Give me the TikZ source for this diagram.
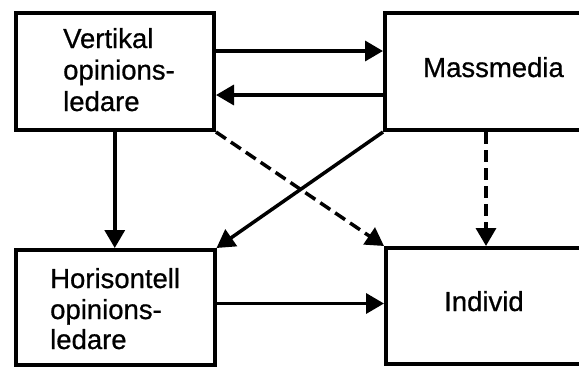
\documentclass[tikz,border=0pt]{standalone}
\usepackage{fontspec}
\setmainfont{Liberation Sans}
\newfontfamily\lblfont{Liberation Sans}[FakeBold=0.7]
\usetikzlibrary{arrows.meta,calc}
\begin{document}
\begin{tikzpicture}[x=1pt,y=-1pt,
  box/.style={draw,rectangle,line width=4pt,inner sep=0pt},
  lbl/.style={anchor=base west,inner sep=0pt,font=\lblfont\fontsize{27.5}{31}\selectfont},
  link/.style={line width=3.5pt,-{Triangle[length=18pt,width=20pt]}},
  linkd/.style={link,dash pattern=on 12pt off 6pt}]
\clip (0,0) rectangle (579,367);
\fill[white] (0,0) rectangle (579,367);

% boxes
\node[box,minimum width=198.5pt,minimum height=117pt] (VO) at (114.75,71.5) {};
\node[box,minimum width=202pt,minimum height=117pt] (MM) at (486,71.5) {};
\node[box,minimum width=199pt,minimum height=115pt] (HO) at (115,307.5) {};
\node[box,minimum width=200pt,minimum height=115.5pt] (IN) at (486,305.75) {};

% labels
\node[lbl] (vo1) at (63,48) {Vertikal};
\node[lbl] (vo2) at (63,79.5) {opinions-};
\node[lbl] (vo3) at (63,111) {ledare};
\node[lbl] (mm) at (423,77) {Massmedia};
\node[lbl] (ho1) at (50,288) {Horisontell};
\node[lbl] (ho2) at (50,319) {opinions-};
\node[lbl] (ho3) at (50,349) {ledare};
\node[lbl] (ind) at (444,311) {Individ};

% connectors
\draw[link] ([yshift=20.5pt]VO.east) -- ([yshift=20.5pt]VO.east -| MM.west);
\draw[link] ([yshift=-23.5pt]MM.west) -- ([yshift=-23.5pt]MM.west -| VO.east);
\draw[link] (VO.south) -- (VO.south |- HO.north);
\draw[link] (MM.south west) -- (HO.north east);
\draw[linkd] (VO.south east) -- (IN.north west);
\draw[linkd] (MM.south) -- (IN.north);
\draw[link] ([yshift=4pt]HO.east) -- ([yshift=4pt]HO.east -| IN.west);
\end{tikzpicture}
\end{document}
